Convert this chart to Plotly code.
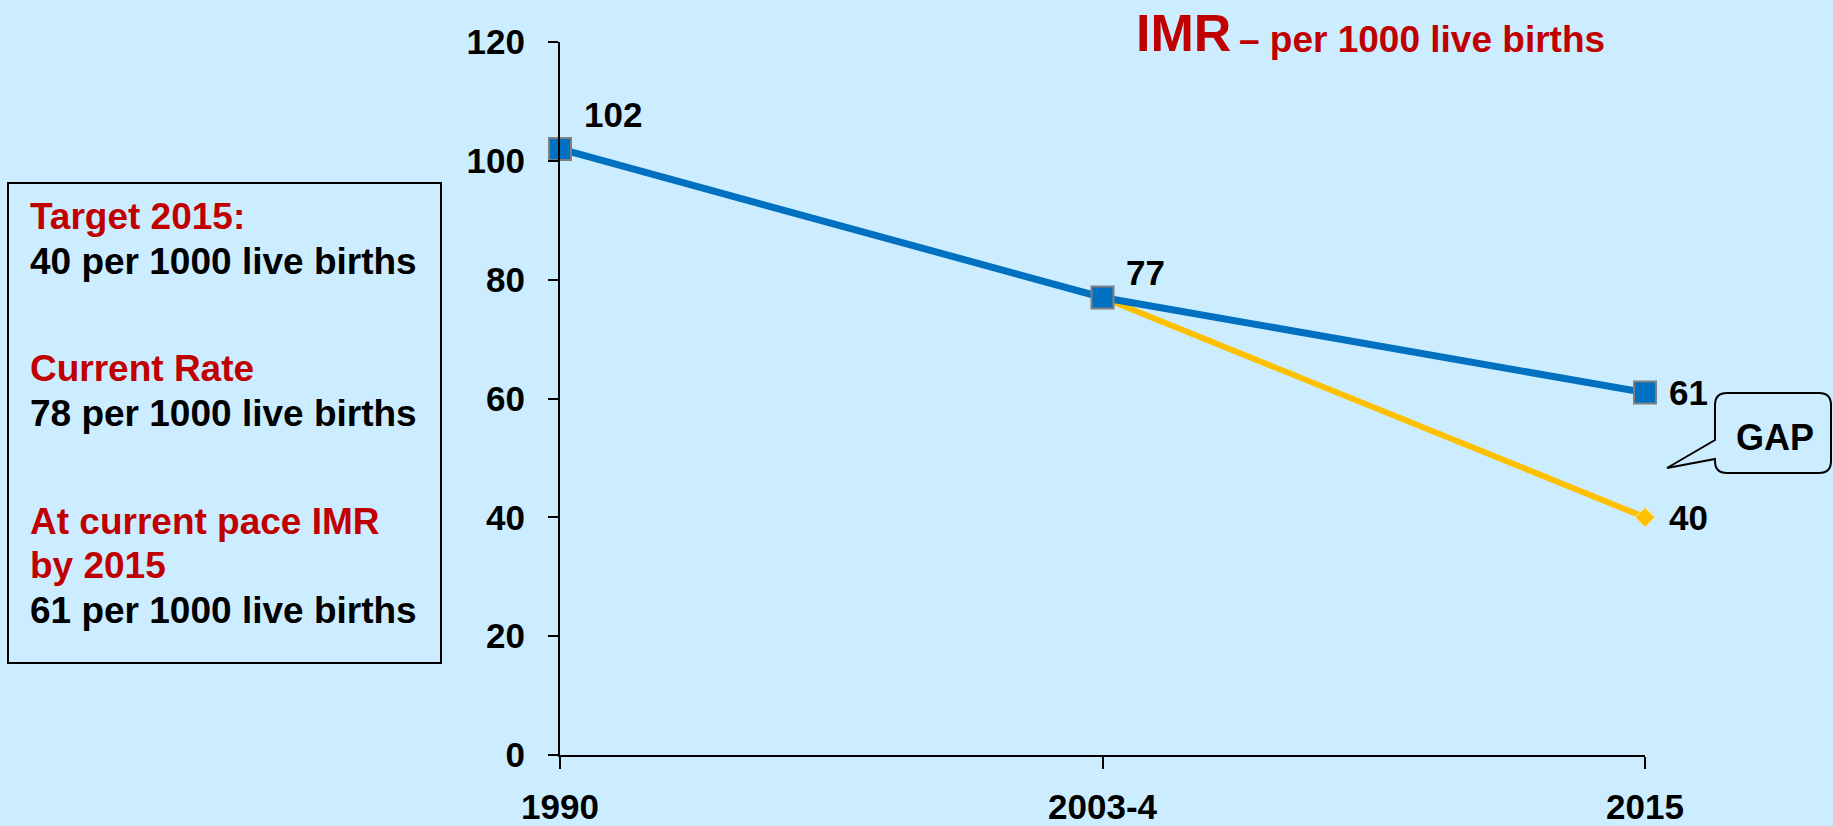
import plotly.graph_objects as go

# Данные: коэффициент младенческой смертности (IMR)
periods = ["1990", "2003-4", "2015"]
imr_current_pace = [102, 77, 61]
target_periods = ["2003-4", "2015"]
imr_target = [77, 40]
y_ticks = [0, 20, 40, 60, 80, 100, 120]

info_lines = [
    ("Target 2015:", "red"),
    ("40 per 1000 live births", "black"),
    ("Current Rate", "red"),
    ("78 per 1000 live births", "black"),
    ("At current pace IMR", "red"),
    ("by 2015", "red"),
    ("61 per 1000 live births", "black"),
]

BG = "#CCECFF"
RED = "#C00000"
FONT = "Liberation Sans, Arial, sans-serif"

W, H = 1833, 826
L, R, T, B = 560, 188, 42, 71


def px(x, y):
    # пиксели страницы -> координаты paper
    return (x - L) / (W - L - R), (H - B - y) / (H - T - B)


fig = go.Figure()

fig.add_trace(go.Scatter(
    x=target_periods, y=imr_target,
    mode="lines+markers",
    line=dict(color="#FFC000", width=6),
    marker=dict(symbol="diamond", size=15, color="#FFC000",
                line=dict(color="#FFE699", width=1)),
    cliponaxis=False, hoverinfo="skip", showlegend=False,
))

fig.add_trace(go.Scatter(
    x=periods, y=imr_current_pace,
    mode="lines+markers",
    line=dict(color="#0070C0", width=7),
    marker=dict(symbol="square", size=22, color="#0070C0",
                line=dict(color="#808080", width=2)),
    cliponaxis=False, hoverinfo="skip", showlegend=False,
))

# подписи значений (x — индекс категории, иначе "1990" читается как число)
label_font = dict(family=FONT, size=35, color="black", weight="bold")
label_shift = [(22, 34), (21, 25), (22, 0)]
for (xv, yv), (dx, dy) in zip(zip(periods, imr_current_pace), label_shift):
    fig.add_annotation(x=periods.index(xv), y=yv, text=str(yv), showarrow=False,
                       xanchor="left", yanchor="middle", xshift=dx, yshift=dy,
                       font=label_font)
fig.add_annotation(x=periods.index(target_periods[-1]), y=imr_target[-1],
                   text=str(imr_target[-1]), showarrow=False,
                   xanchor="left", yanchor="middle", xshift=22, font=label_font)

# заголовок
x0, y0 = px(1134, 33)
fig.add_annotation(xref="paper", yref="paper", x=x0, y=y0, text="IMR",
                   showarrow=False, xanchor="left", yanchor="middle",
                   font=dict(family=FONT, size=52, color=RED, weight="bold"))
x0, y0 = px(1237, 40)
fig.add_annotation(xref="paper", yref="paper", x=x0, y=y0,
                   text="– per 1000 live births",
                   showarrow=False, xanchor="left", yanchor="middle",
                   font=dict(family=FONT, size=37, color=RED, weight="bold"))

# рамка с пояснениями слева
bx0, by0 = px(8, 663)
bx1, by1 = px(441, 183)
fig.add_shape(type="rect", xref="paper", yref="paper",
              x0=bx0, y0=by0, x1=bx1, y1=by1,
              line=dict(color="black", width=2), fillcolor="rgba(0,0,0,0)")
line_y = [217, 261, 368, 413, 521, 565, 610]
for (txt, col), cy in zip(info_lines, line_y):
    ax, ay = px(28, cy)
    fig.add_annotation(xref="paper", yref="paper", x=ax, y=ay, text=txt,
                       showarrow=False, xanchor="left", yanchor="middle",
                       font=dict(family=FONT, size=37,
                                 color=RED if col == "red" else "black",
                                 weight="bold"))

# выноска GAP
r = 12
pts = [
    ("M", 1715 + r, 393), ("L", 1831 - r, 393),
    ("Q", 1831, 393, 1831, 393 + r), ("L", 1831, 473 - r),
    ("Q", 1831, 473, 1831 - r, 473), ("L", 1715 + r, 473),
    ("Q", 1715, 473, 1715, 473 - r), ("L", 1715, 459),
    ("L", 1667, 468), ("L", 1715, 440), ("L", 1715, 393 + r),
    ("Q", 1715, 393, 1715 + r, 393),
]
path = ""
for p in pts:
    cmd, coords = p[0], p[1:]
    parts = []
    for i in range(0, len(coords), 2):
        qx, qy = px(coords[i], coords[i + 1])
        parts.append(f"{qx:.5f},{qy:.5f}")
    path += cmd + " ".join(parts) + " "
path += "Z"
fig.add_shape(type="path", xref="paper", yref="paper", path=path,
              line=dict(color="black", width=2), fillcolor=BG)
gx, gy = px(1775, 437)
fig.add_annotation(xref="paper", yref="paper", x=gx, y=gy, text="GAP",
                   showarrow=False, xanchor="center", yanchor="middle",
                   font=dict(family=FONT, size=36, color="black", weight="bold"))

fig.update_layout(
    width=W, height=H,
    paper_bgcolor=BG, plot_bgcolor=BG,
    margin=dict(l=L, r=R, t=T, b=B),
    showlegend=False,
    font=dict(family=FONT, color="black"),
)

fig.update_xaxes(
    type="category", categoryorder="array", categoryarray=periods,
    range=[0, 2], automargin=False,
    showgrid=False, zeroline=False,
    showline=True, linecolor="black", linewidth=2,
    ticks="outside", ticklen=12, tickwidth=1.5, tickcolor="black",
    ticklabelstandoff=8,
    tickfont=dict(family=FONT, size=35, color="black", weight="bold"),
)
fig.update_yaxes(
    range=[0, 120], tickvals=y_ticks, automargin=False,
    showgrid=False, zeroline=False,
    showline=True, linecolor="black", linewidth=2,
    ticks="outside", ticklen=10, tickwidth=2, tickcolor="black",
    ticklabelstandoff=16,
    tickfont=dict(family=FONT, size=35, color="black", weight="bold"),
)

fig.write_html(
    "out.html",
    config={"displayModeBar": False},
    post_script="document.body.style.margin='0';"
                "document.body.style.overflow='hidden';"
                "document.body.style.background='" + BG + "';",
)
